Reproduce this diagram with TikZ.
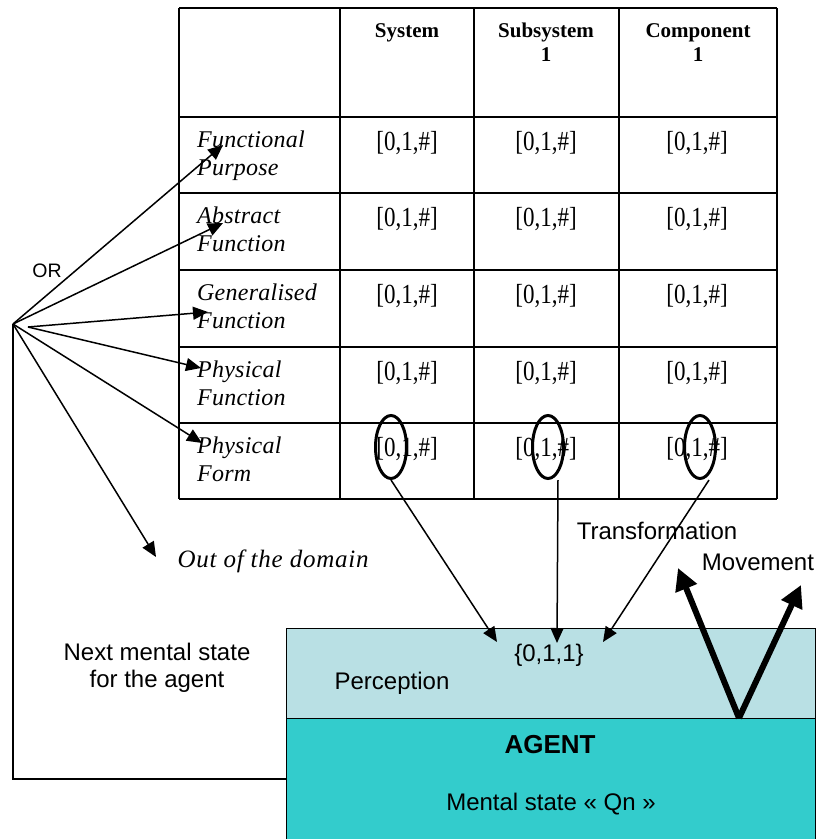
\documentclass[tikz,border=0pt]{standalone}
\usepackage{fontspec}
\setmainfont{Liberation Serif}
\setsansfont{Liberation Sans}
\usetikzlibrary{arrows.meta,shapes.geometric}
\definecolor{percep}{RGB}{185,224,228}
\definecolor{agentc}{RGB}{51,204,204}
\begin{document}
\begin{tikzpicture}[x=1pt,y=-1pt,
  gridline/.style={line width=2pt},
  thinarrow/.style={line width=1.5pt,-{Triangle[length=15pt,width=13pt]}},
  thickarrow/.style={line width=6pt,-{Triangle[length=22pt,width=22pt]}},
  hdr/.style={font=\rmfamily\bfseries\fontsize{21}{24}\selectfont,anchor=north,inner sep=0pt,align=center},
  rowlbl/.style={font=\rmfamily\itshape\fontsize{24}{28}\selectfont\addfontfeature{LetterSpace=1}},
  rowlblpos/.style={anchor=north west,inner sep=0pt,align=left},
  val/.style={font=\rmfamily\fontsize{23}{26}\selectfont,anchor=north,inner sep=0pt},
  sans/.style={font=\sffamily\fontsize{24}{27}\selectfont,inner sep=0pt,align=center},
  oval/.style={ellipse,draw,line width=3pt,minimum width=31pt,minimum height=63pt,inner sep=0pt}
]
\useasboundingbox (0,0) rectangle (819,839);

% agent boxes
\node[draw,line width=1.3pt,fill=percep,minimum width=529pt,minimum height=90pt,anchor=north west,inner sep=0pt] (perc) at (286,628) {};
\node[draw,line width=1.3pt,fill=agentc,minimum width=529pt,minimum height=130pt,anchor=north west,inner sep=0pt] (agent) at (286,718) {};

% table grid
\foreach \x in {179,340,474,619,777} \draw[gridline] (\x,8) -- (\x,499);
\foreach \y in {8,117,193,270,347,423,499} \draw[gridline] (179,\y) -- (777,\y);

% headers
\node[hdr] (hsys) at (407,23) {System};
\node[hdr] (hsub) at (546,23) {Subsystem\\1};
\node[hdr] (hcomp) at (698,23) {Component\\1};

% row labels
\node[rowlbl,rowlblpos] (r1) at (197,131) {Functional\\Purpose};
\node[rowlbl,rowlblpos] (r2) at (197,207) {Abstract\\Function};
\node[rowlbl,rowlblpos] (r3) at (197,284) {Generalised\\Function};
\node[rowlbl,rowlblpos] (r4) at (197,361) {Physical\\Function};
\node[rowlbl,rowlblpos] (r5) at (197,437) {Physical\\Form};

% values
\foreach \r/\y in {1/117,2/193,3/270,4/347,5/423}{
  \foreach \c/\x in {1/407,2/546,3/697}{
    \node[val] (v\r\c) at (\x,\y+14) {\scalebox{1}[1.2]{[0,1,\#]}};
  }
}

% ovals
\node[oval] (e1) at (391,447) {};
\node[oval] (e2) at (548,447) {};
\node[oval] (e3) at (700,447) {};

% texts
\node[sans,font=\sffamily\fontsize{19.5}{22}\selectfont] (or) at (47,271) {OR};
\node[font=\rmfamily\itshape\fontsize{25}{28}\selectfont\addfontfeature{LetterSpace=3},inner sep=0pt] (ood) at (273,561) {Out of the domain};
\node[sans] (trans) at (657,531) {Transformation};
\node[sans] (move) at (758,562) {Movement};
\node[sans,anchor=north] (next) at (157,643) {Next mental state\\for the agent};
\node[sans] (percl) at (392,683) {Perception};
\node[sans] (val) at (549,655) {\{0,1,1\}};
\node[sans,font=\sffamily\bfseries\fontsize{26}{28}\selectfont] (agl) at (550,745) {AGENT};
\node[sans] (ms) at (551,804) {Mental state « Qn »};

% hub and arrow tips
\coordinate (hub) at (13,324);
\coordinate (hubb) at (28,327);
\coordinate (a1) at (223,145);
\coordinate (a2) at (223,223);
\coordinate (a3) at (208,312);
\coordinate (a4) at (201,368);
\coordinate (a5) at (202,443);
\coordinate (a6) at (156,557);
\draw[thinarrow] (hub) -- (a1);
\draw[thinarrow] (hub) -- (a2);
\draw[thinarrow] (hubb) -- (a3);
\draw[thinarrow] (hubb) -- (a4);
\draw[thinarrow] (hub) -- (a5);
\draw[thinarrow] (hub) -- (a6);

% feedback
\draw[line width=1.3pt] (agent.west |- 0,779) -- (13,779) -- (hub);

% perception arrows
\coordinate (t1) at (497,642);
\coordinate (t2) at (557,643);
\coordinate (t3) at (603,642);
\draw[thinarrow] (e1.south) -- (t1);
\draw[thinarrow] ([xshift=10pt]e2.south) -- (t2);
\draw[thinarrow] ([xshift=9pt]e3.south) -- (t3);

% movement
\coordinate (vtx) at (739,718);
\coordinate (mL) at (678,568);
\coordinate (mR) at (801,585);
\draw[thickarrow] (vtx) -- (mL);
\draw[thickarrow] (vtx) -- (mR);
\end{tikzpicture}
\end{document}
